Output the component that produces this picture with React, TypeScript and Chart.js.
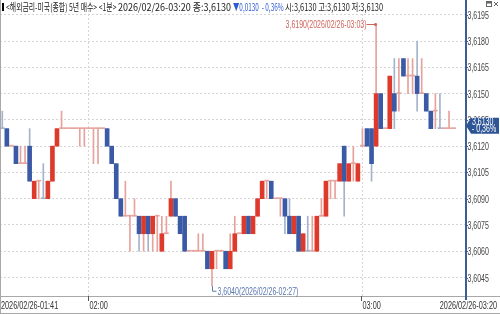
import React, { useEffect, useRef } from 'react';
import { Chart, registerables } from 'chart.js';

Chart.register(...registerables);

const DATE = '2026/02/26';
const START_TIME = '01:41';
const TIMES: string[] = Array.from({ length: 100 }, (_, i) => {
  const [h, m] = START_TIME.split(':').map(Number);
  const t = h * 60 + m + i;
  return `${String(Math.floor(t / 60)).padStart(2, '0')}:${String(t % 60).padStart(2, '0')}`;
});
const X_LABELS = [...TIMES, '', ''];

const OPEN = [
  3.613, 3.613, 3.612, 3.612, 3.611, 3.611, 3.612, 3.609, 3.610, 3.609,
  3.609, 3.610, 3.612, 3.613, 3.613, 3.613, 3.613, 3.613, 3.613, 3.613,
  3.613, 3.613, 3.613, 3.613, 3.612, 3.611, 3.609, 3.608, 3.608, 3.608,
  3.608, 3.607, 3.608, 3.607, 3.608, 3.606, 3.607, 3.608, 3.609, 3.608,
  3.608, 3.606, 3.606, 3.606, 3.606, 3.606, 3.605, 3.606, 3.606, 3.606,
  3.605, 3.606, 3.607, 3.607, 3.608, 3.607, 3.608, 3.609, 3.610, 3.610,
  3.609, 3.609, 3.609, 3.608, 3.607, 3.608, 3.606, 3.606, 3.606, 3.606,
  3.608, 3.608, 3.610, 3.610, 3.610, 3.612, 3.610, 3.611, 3.610, 3.612,
  3.613, 3.613, 3.612, 3.615, 3.613, 3.613, 3.615, 3.615, 3.617, 3.616,
  3.616, 3.616, 3.615, 3.615, 3.614, 3.614, 3.613, 3.613, 3.613, 3.613,
];
const HIGH = [
  3.614, 3.613, 3.612, 3.612, 3.612, 3.612, 3.613, 3.610, 3.610, 3.611,
  3.610, 3.612, 3.613, 3.614, 3.613, 3.613, 3.613, 3.613, 3.613, 3.613,
  3.613, 3.613, 3.613, 3.613, 3.612, 3.611, 3.609, 3.610, 3.608, 3.609,
  3.608, 3.608, 3.608, 3.608, 3.608, 3.608, 3.608, 3.610, 3.609, 3.608,
  3.608, 3.606, 3.606, 3.607, 3.607, 3.606, 3.606, 3.606, 3.606, 3.606,
  3.607, 3.608, 3.607, 3.608, 3.608, 3.608, 3.609, 3.610, 3.610, 3.610,
  3.609, 3.609, 3.609, 3.609, 3.608, 3.608, 3.607, 3.608, 3.608, 3.608,
  3.609, 3.610, 3.610, 3.610, 3.611, 3.612, 3.611, 3.612, 3.611, 3.613,
  3.613, 3.613, 3.619, 3.615, 3.613, 3.616, 3.617, 3.617, 3.617, 3.617,
  3.617, 3.618, 3.617, 3.615, 3.614, 3.615, 3.615, 3.613, 3.614, 3.613,
];
const LOW = [
  3.613, 3.612, 3.612, 3.611, 3.611, 3.611, 3.610, 3.609, 3.609, 3.609,
  3.609, 3.610, 3.612, 3.613, 3.613, 3.613, 3.613, 3.612, 3.612, 3.613,
  3.611, 3.611, 3.613, 3.612, 3.611, 3.609, 3.608, 3.608, 3.606, 3.608,
  3.606, 3.606, 3.606, 3.606, 3.606, 3.606, 3.607, 3.608, 3.608, 3.607,
  3.606, 3.606, 3.606, 3.606, 3.606, 3.605, 3.604, 3.605, 3.606, 3.605,
  3.605, 3.606, 3.607, 3.607, 3.607, 3.607, 3.608, 3.609, 3.609, 3.609,
  3.609, 3.608, 3.607, 3.607, 3.607, 3.606, 3.606, 3.606, 3.606, 3.606,
  3.608, 3.608, 3.609, 3.609, 3.610, 3.608, 3.610, 3.610, 3.610, 3.612,
  3.612, 3.610, 3.612, 3.613, 3.613, 3.613, 3.613, 3.614, 3.616, 3.615,
  3.615, 3.614, 3.615, 3.614, 3.613, 3.613, 3.613, 3.613, 3.613, 3.613,
];
const CLOSE = [
  3.613, 3.612, 3.612, 3.611, 3.611, 3.611, 3.610, 3.610, 3.610, 3.609,
  3.610, 3.612, 3.613, 3.613, 3.613, 3.613, 3.613, 3.613, 3.613, 3.613,
  3.613, 3.613, 3.613, 3.612, 3.611, 3.609, 3.608, 3.608, 3.608, 3.608,
  3.607, 3.608, 3.607, 3.608, 3.608, 3.607, 3.607, 3.609, 3.608, 3.607,
  3.606, 3.606, 3.606, 3.606, 3.606, 3.605, 3.606, 3.606, 3.606, 3.605,
  3.606, 3.607, 3.607, 3.608, 3.607, 3.608, 3.609, 3.610, 3.610, 3.609,
  3.609, 3.609, 3.608, 3.607, 3.608, 3.606, 3.607, 3.606, 3.606, 3.608,
  3.608, 3.610, 3.610, 3.610, 3.611, 3.610, 3.611, 3.611, 3.611, 3.612,
  3.612, 3.611, 3.615, 3.613, 3.613, 3.616, 3.614, 3.615, 3.616, 3.616,
  3.616, 3.615, 3.615, 3.614, 3.613, 3.614, 3.613, 3.613, 3.613, 3.613,
];
const PREV_CLOSE = 3.614;

const Y_TICKS = [3.6045, 3.606, 3.6075, 3.609, 3.6105, 3.612, 3.6135, 3.615, 3.6165, 3.618, 3.6195];
const HOUR_MARKS = ['02:00', '03:00'];
const HEADER_SEGMENTS: { text: string; color: string; width: number }[] = [
  { text: '<해외금리-미국(종합) 5년 매수> <1분> ', color: '#222', width: 112 },
  { text: '2026/02/26-03:20 종:3,6130 ', color: '#222', width: 115 },
  { text: '▼0,0130  - 0,36% ', color: '#2f5bd0', width: 52 },
  { text: '시:3,6130 고:3,6130 저:3,6130', color: '#222', width: 98 },
];
const CHANGE_PCT = '- 0,36%';

const RED = '#de3a2c';
const BLUE = '#3a5aa6';
const RED_LIGHT = '#e6a39c';
const BLUE_LIGHT = '#a3b3cb';

const fmt = (v: number) => v.toFixed(4).replace('.', ',');
const KFONT = '"Noto Sans CJK KR", "DejaVu Sans", sans-serif';
const NFONT = '"Liberation Sans", "DejaVu Sans", sans-serif';
const SX = 0.7;

const dir = (i: number) => {
  if (CLOSE[i] > OPEN[i]) return 1;
  if (CLOSE[i] < OPEN[i]) return -1;
  const prev = i === 0 ? PREV_CLOSE : CLOSE[i - 1];
  return CLOSE[i] < prev ? -1 : 1;
};

function drawText(ctx: CanvasRenderingContext2D, text: string, x: number, y: number, align: 'left' | 'right', sx: number) {
  const w = ctx.measureText(text).width * sx;
  const x0 = align === 'left' ? x : x - w;
  ctx.save();
  ctx.translate(x0, y);
  ctx.scale(sx, 1);
  ctx.textAlign = 'left';
  ctx.fillText(text, 0, 0);
  ctx.restore();
  return w;
}

const overlay = {
  id: 'overlay',
  afterDraw(chart: any) {
    const { ctx, chartArea: ca, scales } = chart;
    const x = scales.x;
    const y = scales.y;
    const W = chart.width;
    const H = chart.height;
    ctx.save();
    ctx.textBaseline = 'middle';

    // frame lines
    ctx.strokeStyle = '#a8a8a8';
    ctx.lineWidth = 1;
    ctx.beginPath();
    ctx.moveTo(0.5, ca.top - 10);
    ctx.lineTo(0.5, H);
    ctx.moveTo(0, H - 0.5);
    ctx.lineTo(W, H - 0.5);
    ctx.moveTo(0, ca.bottom + 0.5);
    ctx.lineTo(W, ca.bottom + 0.5);
    ctx.stroke();

    // y axis line continues to the top edge
    ctx.strokeStyle = '#3d5d96';
    ctx.lineWidth = 2;
    ctx.beginPath();
    ctx.moveTo(ca.right + 1, 0);
    ctx.lineTo(ca.right + 1, ca.bottom + 4);
    ctx.stroke();
    ctx.lineWidth = 1;

    // y labels
    ctx.font = `10px ${NFONT}`;
    ctx.fillStyle = '#444';
    Y_TICKS.forEach((v) => {
      const py = Math.round(y.getPixelForValue(v)) + 0.5;
      ctx.beginPath();
      ctx.moveTo(ca.right + 1, py);
      ctx.lineTo(ca.right + 3, py);
      ctx.stroke();
      drawText(ctx, fmt(v), ca.right + 2.5, py + 0.5, 'left', SX);
    });

    // x labels
    ctx.fillStyle = '#333';
    ctx.font = `10px ${NFONT}`;
    const ly = (ca.bottom + H) / 2 + 1;
    drawText(ctx, `${DATE}-${TIMES[0]}`, ca.left + 1, ly, 'left', SX + 0.03);
    drawText(ctx, `${DATE}-${TIMES[TIMES.length - 1]}`, W - 3, ly, 'right', SX + 0.03);
    HOUR_MARKS.forEach((hm) => {
      const idx = TIMES.indexOf(hm);
      const px = Math.round(x.getPixelForValue(idx)) - 0.5;
      ctx.strokeStyle = '#555';
      ctx.beginPath();
      ctx.moveTo(px, ca.bottom);
      ctx.lineTo(px, ca.bottom + 5);
      ctx.stroke();
      drawText(ctx, hm, px + 1, ly, 'left', SX + 0.03);
    });

    // header
    ctx.font = `10px ${KFONT}`;
    ctx.fillStyle = '#000';
    ctx.fillRect(2, 3, 2, 8);
    let hx = 6;
    const hy = 7;
    HEADER_SEGMENTS.forEach((s) => {
      ctx.fillStyle = s.color;
      const mw = ctx.measureText(s.text).width;
      drawText(ctx, s.text, hx, hy, 'left', s.width / mw);
      hx += s.width;
    });

    // window icons
    ctx.strokeStyle = '#666';
    ctx.lineWidth = 1;
    ctx.strokeRect(W - 13.5, 1.5, 5, 5);
    ctx.fillStyle = '#666';
    ctx.fillRect(W - 13.5, 1.5, 5, 2);
    ctx.beginPath();
    ctx.moveTo(W - 6, 2);
    ctx.lineTo(W - 2, 6);
    ctx.moveTo(W - 2, 2);
    ctx.lineTo(W - 6, 6);
    ctx.stroke();

    // high annotation
    let hi = 0;
    HIGH.forEach((v, i) => { if (v > HIGH[hi]) hi = i; });
    const hpx = Math.round(x.getPixelForValue(hi)) + 0.5;
    const hpy = Math.round(y.getPixelForValue(HIGH[hi])) + 0.5;
    ctx.strokeStyle = '#d0645b';
    ctx.fillStyle = '#d0645b';
    ctx.beginPath();
    ctx.moveTo(hpx - 10, hpy);
    ctx.lineTo(hpx, hpy);
    ctx.stroke();
    ctx.beginPath();
    ctx.arc(hpx - 1, hpy, 1.5, 0, Math.PI * 2);
    ctx.fill();
    ctx.font = `10px ${NFONT}`;
    drawText(ctx, `${fmt(HIGH[hi])}(${DATE}-${TIMES[hi]})`, hpx - 10, hpy + 0.5, 'right', SX);

    // low annotation
    let lo = 0;
    LOW.forEach((v, i) => { if (v < LOW[lo]) lo = i; });
    const lpx = Math.round(x.getPixelForValue(lo)) + 0.5;
    const lpy = y.getPixelForValue(LOW[lo]);
    ctx.strokeStyle = '#5a78b0';
    ctx.fillStyle = '#5a78b0';
    ctx.beginPath();
    ctx.moveTo(lpx, lpy);
    ctx.lineTo(lpx, lpy + 5);
    ctx.lineTo(lpx + 4, lpy + 5);
    ctx.stroke();
    drawText(ctx, `${fmt(LOW[lo])}(${DATE}-${TIMES[lo]})`, lpx + 5, lpy + 6, 'left', SX);

    // current price marker
    const last = CLOSE[CLOSE.length - 1];
    const py = y.getPixelForValue(last) - 3;
    const bx = ca.right + 6;
    ctx.fillStyle = '#2d5596';
    ctx.beginPath();
    ctx.moveTo(ca.right + 1, py);
    ctx.lineTo(bx, py - 8);
    ctx.lineTo(W - 1, py - 8);
    ctx.lineTo(W - 1, py + 8);
    ctx.lineTo(bx, py + 8);
    ctx.closePath();
    ctx.fill();
    ctx.fillStyle = '#fff';
    ctx.font = `10px ${NFONT}`;
    drawText(ctx, fmt(last), bx + 1, py - 3.5, 'left', SX);
    drawText(ctx, CHANGE_PCT, bx + 1, py + 4, 'left', SX);

    ctx.restore();
  },
};

export default function App() {
  const ref = useRef<HTMLCanvasElement | null>(null);
  useEffect(() => {
    if (!ref.current) return;
    const bodyColors = CLOSE.map((_, i) =>
      OPEN[i] === CLOSE[i] ? (dir(i) > 0 ? RED_LIGHT : BLUE_LIGHT) : dir(i) > 0 ? RED : BLUE);
    const wickColors = CLOSE.map((_, i) => (dir(i) > 0 ? RED_LIGHT : BLUE_LIGHT));
    const chart = new Chart(ref.current, {
      type: 'bar',
      data: {
        labels: X_LABELS,
        datasets: [
          {
            label: 'body',
            data: CLOSE.map((c, i) => [OPEN[i], c]) as any,
            backgroundColor: bodyColors,
            barThickness: 4,
            minBarLength: 1,
            grouped: false,
          } as any,
          {
            label: 'wick',
            data: CLOSE.map((_, i) => [LOW[i], HIGH[i]]) as any,
            backgroundColor: wickColors,
            barThickness: 1,
            grouped: false,
          } as any,
        ],
      },
      options: {
        animation: false,
        responsive: true,
        maintainAspectRatio: false,
        layout: { padding: { top: 10, left: 0, right: 0, bottom: 0 } },
        plugins: { legend: { display: false }, tooltip: { enabled: false } },
        scales: {
          x: {
            type: 'category',
            offset: true,
            afterBuildTicks: (s: any) => {
              s.ticks = HOUR_MARKS.map((h) => ({ value: TIMES.indexOf(h), label: h }));
            },
            afterFit: (s: any) => { s.height = 18; },
            ticks: { display: false },
            grid: { color: '#d4d4d4', drawTicks: false, offset: false },
            border: { display: false, dash: [2, 2] },
          },
          y: {
            position: 'right',
            min: 3.603444,
            max: 3.619774,
            afterBuildTicks: (s: any) => {
              s.ticks = Y_TICKS.map((v) => ({ value: v }));
            },
            afterFit: (s: any) => { s.width = 35; },
            ticks: { display: false },
            grid: { color: '#d4d4d4', drawTicks: false },
            border: { display: false, dash: [2, 2] },
          },
        },
      } as any,
      plugins: [overlay],
    });
    return () => chart.destroy();
  }, []);
  return (
    <div style={{ position: 'fixed', left: 0, top: 0, width: 500, height: 314, background: '#fff' }}>
      <canvas ref={ref} />
    </div>
  );
}
